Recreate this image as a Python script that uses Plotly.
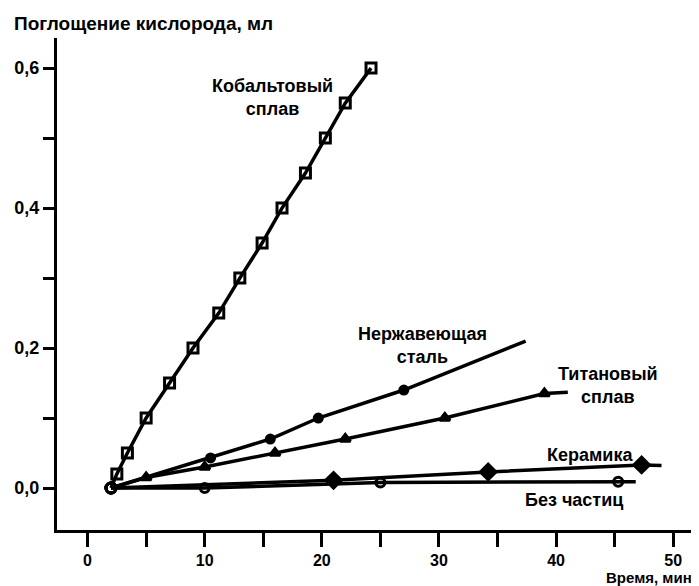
import plotly.graph_objects as go

# ---- data (time, min ; oxygen uptake, ml) ----
cobalt_t = [2, 2.5, 3.4, 5, 7, 9, 11.2, 13, 14.9, 16.6, 18.6, 20.3, 22, 24.2]
cobalt_v = [0, 0.02, 0.05, 0.10, 0.15, 0.20, 0.25, 0.30, 0.35, 0.40, 0.45, 0.50, 0.55, 0.60]

steel_t = [2, 10.5, 15.6, 19.7, 27, 37.4]
steel_v = [0, 0.043, 0.07, 0.10, 0.14, 0.21]

titan_t = [2, 5, 10, 16, 22, 30.5, 39, 41]
titan_v = [0, 0.015, 0.03, 0.05, 0.07, 0.10, 0.135, 0.137]

ceramic_t = [2, 21, 34.2, 47.3, 49]
ceramic_v = [0, 0.011, 0.023, 0.033, 0.032]

none_t = [2, 10, 25, 45.3, 46.8]
none_v = [0, 0.0, 0.008, 0.009, 0.009]

x_tickvals = [0, 5, 10, 15, 20, 25, 30, 35, 40, 45, 50]
x_ticktext = ["0", "", "10", "", "20", "", "30", "", "40", "", "50"]
y_tickvals = [0, 0.1, 0.2, 0.3, 0.4, 0.5, 0.6]
y_ticktext = ["0,0", "", "0,2", "", "0,4", "", "0,6"]

labels = ["Кобальтовый<br>сплав", "Нержавеющая<br>сталь", "Титановый<br>сплав", "Керамика", "Без частиц"]
y_title = "Поглощение кислорода, мл"
x_title = "Время, мин"

FONT = "Liberation Sans"
fig = go.Figure()


def add_series(t, v, sym, size, end_blank=False):
    n = len(t)
    symbols = ["circle-open"] + [sym] * (n - 1)
    sizes = [10] + [size] * (n - 1)
    if end_blank:
        sizes[-1] = 0
    fig.add_trace(go.Scatter(
        x=t, y=v, mode="lines+markers",
        line=dict(color="black", width=3.5),
        marker=dict(symbol=symbols, size=sizes, color="black", opacity=1,
                    line=dict(color="black", width=3)),
        showlegend=False, hoverinfo="skip",
    ))


add_series(none_t, none_v, "circle-open", 9, end_blank=True)
add_series(ceramic_t, ceramic_v, "diamond", 12, end_blank=True)
add_series(titan_t, titan_v, "triangle-up", 9, end_blank=True)
add_series(steel_t, steel_v, "circle", 8, end_blank=True)
add_series(cobalt_t, cobalt_v, "square-open", 10)

lab_pos = [(15.75, 0.558), (28.6, 0.203), (44.45, 0.147), (42.9, 0.047), (41.5, -0.017)]
for txt, (lx, ly) in zip(labels, lab_pos):
    fig.add_annotation(x=lx, y=ly, text=txt, showarrow=False,
                       font=dict(family=FONT, size=18, color="black", weight="bold"),
                       xanchor="center", yanchor="middle", align="center")

# page body has an 8px margin; compensate so the plot lands where the reference has it
OFF = 8
L, R, T, B = 49, 0, 30, 56
W, H = 691, 578
pw, ph = W - L - R, H - T - B


def px2paper_x(px):
    return (px - OFF - L) / pw


def px2paper_y(py):
    return (H - B - (py - OFF)) / ph


fig.add_annotation(xref="paper", yref="paper", x=px2paper_x(12), y=px2paper_y(24),
                   text=y_title, showarrow=False, xanchor="left", yanchor="middle",
                   font=dict(family=FONT, size=19, color="black", weight="bold"))
fig.add_annotation(xref="paper", yref="paper", x=px2paper_x(694), y=px2paper_y(577),
                   text=x_title, showarrow=False, xanchor="right", yanchor="middle",
                   font=dict(family=FONT, size=15, color="black", weight="bold"))

fig.update_layout(
    width=W, height=H,
    margin=dict(l=L, r=R, t=T, b=B, pad=0),
    paper_bgcolor="white", plot_bgcolor="white",
    xaxis=dict(range=[-2.61, 52.2], showgrid=False, zeroline=False,
               showline=True, linecolor="black", linewidth=3,
               ticks="outside", ticklen=14, tickwidth=3, tickcolor="black",
               tickvals=x_tickvals, ticktext=x_ticktext,
               tickfont=dict(family=FONT, size=16, color="black", weight="bold")),
    yaxis=dict(range=[-0.06, 0.643], showgrid=False, zeroline=False,
               showline=True, linecolor="black", linewidth=3,
               ticks="outside", ticklen=11, tickwidth=3, tickcolor="black",
               tickvals=y_tickvals, ticktext=y_ticktext,
               tickfont=dict(family=FONT, size=18, color="black", weight="bold")),
)

fig.write_html("out.html")
